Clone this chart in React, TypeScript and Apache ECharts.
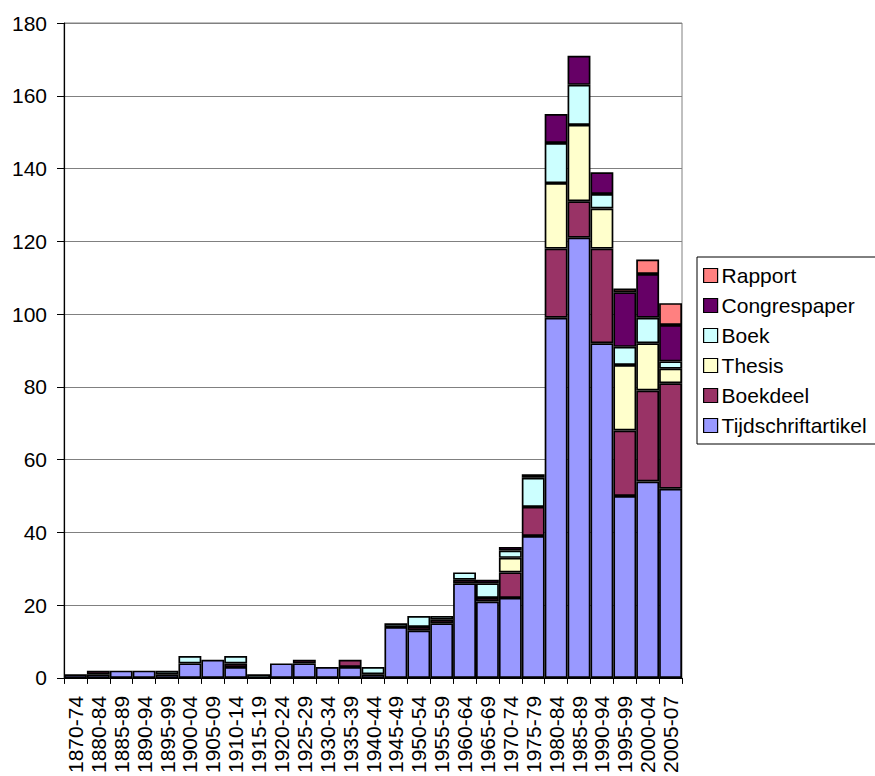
import React, { useEffect, useRef } from "react";
import * as echarts from "echarts";

const categories = [
  "1870-74", "1880-84", "1885-89", "1890-94", "1895-99", "1900-04", "1905-09",
  "1910-14", "1915-19", "1920-24", "1925-29", "1930-34", "1935-39", "1940-44",
  "1945-49", "1950-54", "1955-59", "1960-64", "1965-69", "1970-74", "1975-79",
  "1980-84", "1985-89", "1990-94", "1995-99", "2000-04", "2005-07",
];

const tijdschriftartikel = [1, 1, 2, 2, 1, 4, 5, 3, 0, 4, 4, 3, 3, 1, 14, 13, 15, 26, 21, 22, 39, 99, 121, 92, 50, 54, 52];
const boekdeel = [0, 1, 0, 0, 0, 0, 0, 1, 0, 0, 1, 0, 2, 0, 0, 1, 1, 1, 1, 7, 8, 19, 10, 26, 18, 25, 29];
const thesis = [0, 0, 0, 0, 0, 0, 0, 0, 0, 0, 0, 0, 0, 0, 0, 0, 0, 0, 0, 4, 0, 18, 21, 11, 18, 13, 4];
const boek = [0, 0, 0, 0, 1, 2, 0, 2, 1, 0, 0, 0, 0, 2, 1, 3, 1, 2, 4, 2, 8, 11, 11, 4, 5, 7, 2];
const congrespaper = [0, 0, 0, 0, 0, 0, 0, 0, 0, 0, 0, 0, 0, 0, 0, 0, 0, 0, 1, 1, 1, 8, 8, 6, 15, 12, 10];
const rapport = [0, 0, 0, 0, 0, 0, 0, 0, 0, 0, 0, 0, 0, 0, 0, 0, 0, 0, 0, 0, 0, 0, 0, 0, 1, 4, 6];

const yTicks = { min: 0, max: 180, interval: 20 };

const FONT = "'Liberation Sans', Arial, sans-serif";

export default function App() {
  const ref = useRef<HTMLDivElement>(null);

  useEffect(() => {
    if (!ref.current) return;
    const chart = echarts.init(ref.current, undefined, { renderer: "svg" });

    const mk = (name: string, data: number[], color: string) => ({
      name,
      type: "bar",
      stack: "total",
      barCategoryGap: "0%",
      data: data.map((v) => (v === 0 ? "-" : v)),
      itemStyle: { color, borderColor: "#000", borderWidth: 1.7 },
      emphasis: { disabled: true },
    });

    chart.setOption({
      animation: false,
      backgroundColor: "#fff",
      textStyle: { fontFamily: FONT },
      grid: {
        left: 64,
        top: 23,
        right: 193,
        bottom: 96,
        show: true,
        borderColor: "#808080",
        borderWidth: 1,
        backgroundColor: "transparent",
      },
      legend: {
        orient: "vertical",
        left: 697,
        top: 257,
        padding: [8, 10, 8, 6],
        borderColor: "#000",
        borderWidth: 1,
        itemWidth: 14,
        itemHeight: 14,
        itemGap: 9,
        data: ["Rapport", "Congrespaper", "Boek", "Thesis", "Boekdeel", "Tijdschriftartikel"],
        textStyle: { fontSize: 21, color: "#000", fontFamily: FONT, lineHeight: 21, padding: [0, 0, 0, -1] },
        itemStyle: { borderColor: "#000", borderWidth: 1.2 },
        icon: "rect",
      },
      xAxis: {
        type: "category",
        data: categories,
        axisLine: { lineStyle: { color: "#000", width: 1.2 } },
        axisTick: { show: true, alignWithLabel: false, length: 6, lineStyle: { color: "#000" } },
        axisLabel: {
          rotate: 90,
          interval: 0,
          margin: 18,
          fontSize: 21,
          color: "#000",
          fontFamily: FONT,
        },
        splitLine: { show: false },
      },
      yAxis: {
        type: "value",
        min: yTicks.min,
        max: yTicks.max,
        interval: yTicks.interval,
        axisLine: { show: true, lineStyle: { color: "#000", width: 1.2 } },
        axisTick: { show: true, length: 7, lineStyle: { color: "#000" } },
        axisLabel: { margin: 17, fontSize: 21, color: "#000", fontFamily: FONT },
        splitLine: { show: true, lineStyle: { color: "#808080", width: 1 } },
      },
      series: [
        mk("Tijdschriftartikel", tijdschriftartikel, "#9999FF"),
        mk("Boekdeel", boekdeel, "#993366"),
        mk("Thesis", thesis, "#FFFFCC"),
        mk("Boek", boek, "#CCFFFF"),
        mk("Congrespaper", congrespaper, "#660066"),
        mk("Rapport", rapport, "#FF8080"),
      ],
    });

    return () => chart.dispose();
  }, []);

  return (
    <div
      ref={ref}
      style={{ position: "absolute", left: 0, top: 0, width: 875, height: 776, background: "#fff" }}
    />
  );
}
